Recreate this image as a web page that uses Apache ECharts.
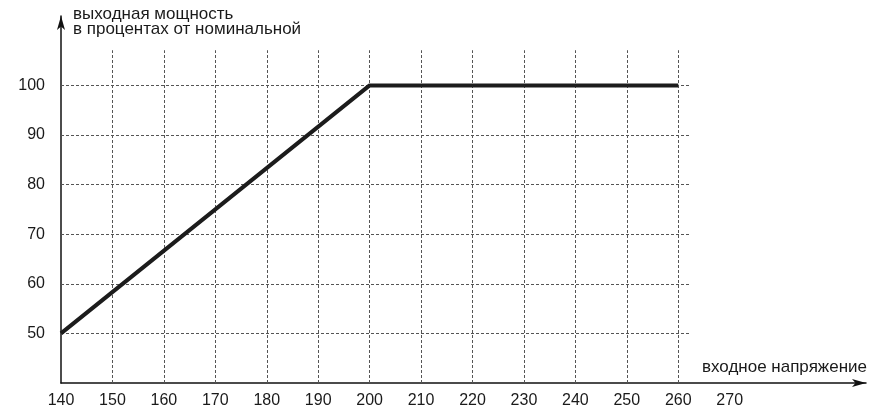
<!DOCTYPE html>
<html>
<head>
<meta charset="utf-8">
<script src="https://cdn.jsdelivr.net/npm/echarts@6/dist/echarts.min.js"></script>
<style>html,body{margin:0;padding:0;background:#fff;}#c{width:881px;height:412px;}</style>
</head>
<body>
<div id="c"></div>
<script>
// data
const powerCurve = [[140, 50], [200, 100], [260, 100]];
const xTickLabels = [140, 150, 160, 170, 180, 190, 200, 210, 220, 230, 240, 250, 260, 270];
const yTickLabels = [50, 60, 70, 80, 90, 100];
const xGridValues = [150, 160, 170, 180, 190, 200, 210, 220, 230, 240, 250, 260];
const yGridValues = [50, 60, 70, 80, 90, 100];
const gridXEnd = 262.3;
const gridYEnd = 107.1;
const yTitle = ['выходная мощность', 'в процентах от номинальной'];
const xTitle = 'входное напряжение';

const gridLines = [];
xGridValues.forEach(v => gridLines.push([{coord: [v, 40]}, {coord: [v, gridYEnd]}]));
yGridValues.forEach(v => gridLines.push([{coord: [140, v]}, {coord: [gridXEnd, v]}]));

const font = 'Liberation Sans, Arial, sans-serif';
const chart = echarts.init(document.getElementById('c'), null, {renderer: 'canvas'});
chart.setOption({
  animation: false,
  backgroundColor: '#fff',
  grid: {left: 61, right: 15, top: 16, bottom: 29, containLabel: false},
  xAxis: {
    type: 'value', min: 140, max: 296.5, interval: 10,
    axisLine: {show: true, lineStyle: {color: '#111', width: 1.5}, symbol: ['none', 'arrow'], symbolSize: [6, 14]},
    axisTick: {show: false},
    splitLine: {show: false},
    axisLabel: {
      margin: 10, color: '#1a1a1a', fontSize: 16, fontFamily: font,
      showMaxLabel: false,
      formatter: v => xTickLabels.indexOf(v) >= 0 ? String(v) : ''
    }
  },
  yAxis: {
    type: 'value', min: 40, max: 114, interval: 10,
    axisLine: {show: true, lineStyle: {color: '#111', width: 1.5}, symbol: ['none', 'arrow'], symbolSize: [6, 14]},
    axisTick: {show: false},
    splitLine: {show: false},
    axisLabel: {
      margin: 16, color: '#1a1a1a', fontSize: 16, fontFamily: font,
      showMaxLabel: false,
      formatter: v => yTickLabels.indexOf(v) >= 0 ? String(v) : ''
    }
  },
  graphic: [
    {type: 'text', left: 73, top: 6, style: {text: yTitle.join('\n'), font: '17px ' + font, fill: '#1a1a1a', lineHeight: 15}},
    {type: 'text', right: 14, top: 359, style: {text: xTitle, font: '17px ' + font, fill: '#1a1a1a'}}
  ],
  series: [{
    type: 'line',
    data: powerCurve,
    symbol: 'none',
    z: 3,
    lineStyle: {color: '#1c1c1c', width: 4},
    markLine: {
      silent: true, z: 1, symbol: ['none', 'none'], animation: false,
      label: {show: false},
      lineStyle: {color: '#555', width: 1, type: [3, 2]},
      emphasis: {disabled: true},
      data: gridLines
    }
  }]
});
</script>
</body>
</html>
